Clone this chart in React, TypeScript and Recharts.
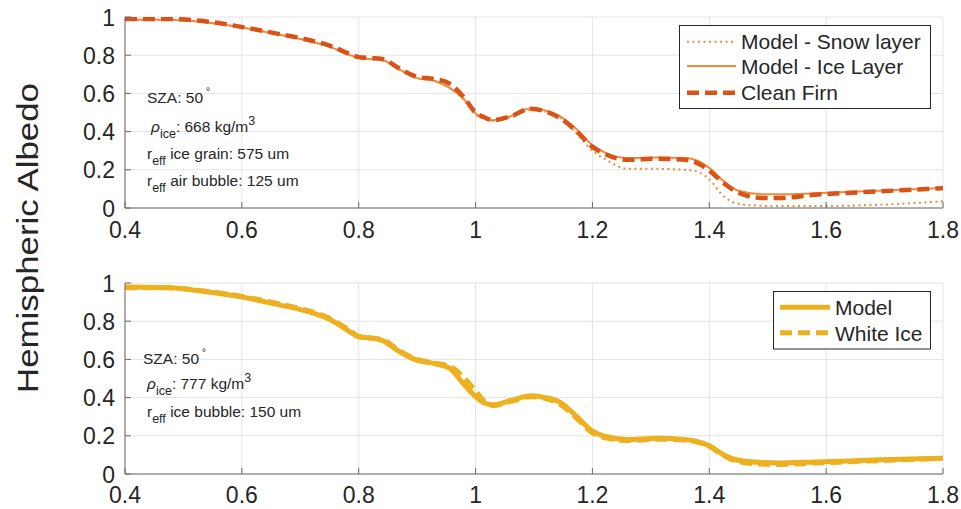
import React from 'react'
import { LineChart, Line, XAxis, YAxis, CartesianGrid } from 'recharts'

// wavelength (um) sampled off the figure
const wavelength = [
  0.4, 0.47, 0.53, 0.6, 0.66, 0.7, 0.75, 0.79, 0.8, 0.82, 0.84, 0.87, 0.9, 0.93, 0.955, 0.98, 1.0, 1.015, 1.03,
  1.06, 1.095, 1.12, 1.145, 1.17, 1.2, 1.225, 1.26, 1.31, 1.36, 1.385, 1.4, 1.425, 1.45, 1.49, 1.52, 1.58, 1.69, 1.8,
]

// top panel
const snowLayer = [
  0.985, 0.985, 0.975, 0.945, 0.91, 0.885, 0.845, 0.795, 0.785, 0.78, 0.775, 0.725, 0.68, 0.665, 0.63, 0.565, 0.49,
  0.465, 0.455, 0.475, 0.515, 0.505, 0.47, 0.4, 0.3, 0.25, 0.205, 0.205, 0.2, 0.183, 0.15, 0.06, 0.022, 0.012, 0.01,
  0.01, 0.017, 0.035,
]
const iceLayer = [
  0.985, 0.985, 0.975, 0.945, 0.91, 0.885, 0.845, 0.795, 0.785, 0.78, 0.775, 0.725, 0.68, 0.665, 0.63, 0.57, 0.495,
  0.47, 0.46, 0.48, 0.522, 0.51, 0.48, 0.42, 0.33, 0.285, 0.262, 0.265, 0.262, 0.24, 0.21, 0.14, 0.09, 0.072, 0.072,
  0.077, 0.09, 0.105,
]
const cleanFirn = [
  0.99, 0.99, 0.98, 0.948, 0.913, 0.89, 0.85, 0.8, 0.79, 0.785, 0.78, 0.73, 0.687, 0.675, 0.652, 0.58, 0.5, 0.475,
  0.46, 0.48, 0.52, 0.505, 0.47, 0.41, 0.32, 0.278, 0.252, 0.258, 0.252, 0.226, 0.195, 0.13, 0.08, 0.053, 0.052,
  0.069, 0.087, 0.104,
]

// bottom panel
const modelIce = [
  0.979, 0.976, 0.958, 0.927, 0.888, 0.861, 0.81, 0.735, 0.718, 0.712, 0.7, 0.64, 0.595, 0.578, 0.555, 0.47, 0.405,
  0.372, 0.362, 0.385, 0.41, 0.4, 0.375, 0.31, 0.225, 0.195, 0.18, 0.187, 0.18, 0.165, 0.148, 0.1, 0.072, 0.06, 0.058,
  0.063, 0.074, 0.083,
]
const whiteIce = [
  0.975, 0.975, 0.96, 0.93, 0.893, 0.866, 0.815, 0.74, 0.72, 0.712, 0.705, 0.645, 0.6, 0.58, 0.565, 0.505, 0.435,
  0.38, 0.358, 0.38, 0.405, 0.395, 0.365, 0.3, 0.215, 0.188, 0.175, 0.182, 0.177, 0.163, 0.145, 0.095, 0.065, 0.052,
  0.05, 0.057, 0.07, 0.082,
]

const xTicks = [0.4, 0.6, 0.8, 1, 1.2, 1.4, 1.6, 1.8]
const yTicks = [0, 0.2, 0.4, 0.6, 0.8, 1]

const topData = wavelength.map((w, i) => ({ w, snow: snowLayer[i], ice: iceLayer[i], firn: cleanFirn[i] }))
const bottomData = wavelength.map((w, i) => ({ w, model: modelIce[i], white: whiteIce[i] }))

const FONT = '"Liberation Sans", Arial, Helvetica, sans-serif'
const INK = '#262626'
const AXIS = '#6a6a6a'
const GRID = '#e4e4e4'
const FIRN = '#D95319'
const LIGHT = '#EF8B3B'
const YELLOW = '#EDB120'

// matlab style: ticks point into the axes
function XTick({ x, y, payload, base }: any) {
  return (
    <g>
      <line x1={x} x2={x} y1={y} y2={y - 6} stroke={AXIS} />
      <text x={x} y={y + base} textAnchor="middle" fontSize={23} fill={INK} fontFamily={FONT}>
        {payload.value}
      </text>
    </g>
  )
}

function YTick({ x, y, payload }: any) {
  return (
    <g>
      <line x1={x} x2={x + 6} y1={y} y2={y} stroke={AXIS} />
      <text x={x - 10} y={y + 8.5} textAnchor="end" fontSize={23} fill={INK} fontFamily={FONT}>
        {payload.value}
      </text>
    </g>
  )
}

function Axes({ base }: { base: number }) {
  return (
    <>
      <CartesianGrid stroke={GRID} />
      <XAxis
        dataKey="w"
        type="number"
        domain={[0.4, 1.8]}
        ticks={xTicks}
        height={30}
        tickSize={0}
        tickMargin={0}
        axisLine={{ stroke: AXIS }}
        tickLine={false}
        tick={(p: any) => <XTick {...p} base={base} />}
        allowDataOverflow
      />
      <YAxis
        type="number"
        domain={[0, 1]}
        ticks={yTicks}
        width={100}
        tickSize={0}
        tickMargin={0}
        axisLine={{ stroke: AXIS }}
        tickLine={false}
        tick={(p: any) => <YTick {...p} />}
        allowDataOverflow
      />
    </>
  )
}

function Sub({ children }: { children: string }) {
  return (
    <tspan dy={6} fontSize={12.5}>
      {children}
    </tspan>
  )
}

export default function App() {
  return (
    <div style={{ position: 'absolute', left: 0, top: 0, width: 961, height: 509, background: '#fff' }}>
      <div style={{ position: 'absolute', left: 0, top: 0 }}>
        <LineChart width={961} height={250} data={topData} margin={{ top: 17, right: 18, bottom: 12, left: 25 }}>
          {Axes({ base: 30 })}
          <Line
            type="monotone"
            dataKey="snow"
            stroke={LIGHT}
            strokeWidth={2}
            strokeDasharray="2 3.5"
            dot={false}
            isAnimationActive={false}
          />
          <Line type="monotone" dataKey="ice" stroke={LIGHT} strokeWidth={2} dot={false} isAnimationActive={false} />
          <Line
            type="monotone"
            dataKey="firn"
            stroke={FIRN}
            strokeWidth={4.5}
            strokeDasharray="12 6"
            dot={false}
            isAnimationActive={false}
          />
        </LineChart>
      </div>
      <div style={{ position: 'absolute', left: 0, top: 250 }}>
        <LineChart width={961} height={259} data={bottomData} margin={{ top: 33, right: 18, bottom: 5, left: 25 }}>
          {Axes({ base: 29 })}
          <Line type="monotone" dataKey="model" stroke={YELLOW} strokeWidth={5} dot={false} isAnimationActive={false} />
          <Line
            type="monotone"
            dataKey="white"
            stroke={YELLOW}
            strokeWidth={5}
            strokeDasharray="12 6"
            dot={false}
            isAnimationActive={false}
          />
        </LineChart>
      </div>

      <svg
        width={961}
        height={509}
        style={{ position: 'absolute', left: 0, top: 0, pointerEvents: 'none' }}
        fontFamily={FONT}
        fill={INK}
      >
        <text
          transform="translate(38,238) rotate(-90)"
          textAnchor="middle"
          fontSize={30}
          textLength={310}
          lengthAdjust="spacingAndGlyphs"
        >
          Hemispheric Albedo
        </text>

        {/* top annotation */}
        <g fontSize={15.5}>
          <text x={147} y={103}>
            SZA: 50
            <tspan dx={3} dy={-8} fontSize={10}>
              °
            </tspan>
          </text>
          <text x={151} y={131.5}>
            <tspan fontStyle="italic">ρ</tspan>
            <Sub>ice</Sub>
            <tspan dy={-6}>: 668 kg/m</tspan>
            <tspan dy={-7} fontSize={12.5}>
              3
            </tspan>
          </text>
          <text x={147} y={159}>
            r<Sub>eff</Sub>
            <tspan dy={-6}> ice grain: 575 um</tspan>
          </text>
          <text x={147} y={186}>
            r<Sub>eff</Sub>
            <tspan dy={-6}> air bubble: 125 um</tspan>
          </text>
        </g>

        {/* bottom annotation */}
        <g fontSize={15.5}>
          <text x={143} y={364}>
            SZA: 50
            <tspan dx={3} dy={-8} fontSize={10}>
              °
            </tspan>
          </text>
          <text x={147} y={388.5}>
            <tspan fontStyle="italic">ρ</tspan>
            <Sub>ice</Sub>
            <tspan dy={-6}>: 777 kg/m</tspan>
            <tspan dy={-7} fontSize={12.5}>
              3
            </tspan>
          </text>
          <text x={147} y={416.5}>
            r<Sub>eff</Sub>
            <tspan dy={-6}> ice bubble: 150 um</tspan>
          </text>
        </g>

        {/* top legend */}
        <rect x={679.5} y={25.5} width={251} height={83} fill="#fff" stroke={INK} strokeWidth={1} />
        <line x1={687} x2={736} y1={41.7} y2={41.7} stroke={LIGHT} strokeWidth={2} strokeDasharray="2 3.5" />
        <line x1={687} x2={736} y1={66} y2={66} stroke={LIGHT} strokeWidth={2} />
        <line x1={687} x2={736} y1={92.7} y2={92.7} stroke={FIRN} strokeWidth={4.5} strokeDasharray="12 6" />
        <g fontSize={21}>
          <text x={741} y={49}>
            Model - Snow layer
          </text>
          <text x={741} y={74}>
            Model - Ice Layer
          </text>
          <text x={741} y={100}>
            Clean Firn
          </text>
        </g>

        {/* bottom legend */}
        <rect x={773.5} y={291.5} width={157} height={57.5} fill="#fff" stroke={INK} strokeWidth={1} />
        <line x1={780} x2={830} y1={307.3} y2={307.3} stroke={YELLOW} strokeWidth={5} />
        <line x1={780} x2={830} y1={332.7} y2={332.7} stroke={YELLOW} strokeWidth={5} strokeDasharray="12 6" />
        <g fontSize={21}>
          <text x={835} y={315}>
            Model
          </text>
          <text x={835} y={340.5}>
            White Ice
          </text>
        </g>
      </svg>
    </div>
  )
}
